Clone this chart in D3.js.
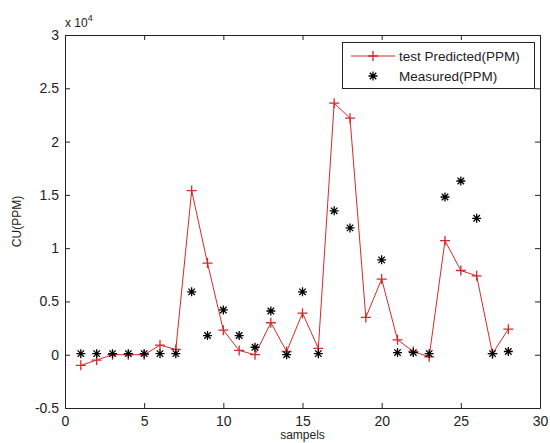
<!DOCTYPE html>
<html>
<head>
<meta charset="utf-8">
<script src="https://cdn.jsdelivr.net/npm/d3@7"></script>
<style>
  body { margin: 0; background: #fff; }
  text { font-family: "Liberation Sans", Arial, sans-serif; }
</style>
</head>
<body>
<div id="chart"></div>
<script>
// samples 1..28, values in units of 1e4 PPM
const samples = d3.range(1, 29);
const predicted = [-0.10, -0.05, 0.00, 0.00, 0.00, 0.09, 0.05, 1.54, 0.86, 0.23,
                   0.04, 0.00, 0.30, 0.03, 0.39, 0.06, 2.36, 2.22, 0.35, 0.71,
                   0.14, 0.03, -0.02, 1.07, 0.79, 0.74, 0.01, 0.24];
const measured = [0.01, 0.01, 0.01, 0.01, 0.01, 0.01, 0.01, 0.59, 0.18, 0.42,
                  0.18, 0.07, 0.41, 0.00, 0.59, 0.01, 1.35, 1.19, null, 0.89,
                  0.02, 0.02, 0.01, 1.48, 1.63, 1.28, 0.01, 0.03];
const xTicks = [0, 5, 10, 15, 20, 25, 30];
const yTicks = [-0.5, 0, 0.5, 1, 1.5, 2, 2.5, 3];

const width = 550, height = 443;
const margin = {top: 35, right: 10, bottom: 35, left: 65};

const svg = d3.select("#chart").append("svg")
    .attr("width", width)
    .attr("height", height);

const x = d3.scaleLinear().domain([0, 30]).range([margin.left, width - margin.right]);
const y = d3.scaleLinear().domain([-0.5, 3]).range([height - margin.bottom, margin.top]);

const tickColor = "#222";
const plain = d => String(d);

// axes with inward ticks, MATLAB box style
const styleAxis = g => {
    g.select(".domain").attr("stroke", tickColor);
    g.selectAll(".tick line").attr("stroke", tickColor);
    g.selectAll(".tick text").attr("fill", tickColor).attr("font-size", 14);
};

svg.append("g")
    .attr("transform", `translate(0,${y(-0.5)})`)
    .call(d3.axisBottom(x).tickValues(xTicks).tickFormat(plain).tickSize(-5).tickSizeOuter(0).tickPadding(8))
    .call(styleAxis);

svg.append("g")
    .attr("transform", `translate(0,${y(3)})`)
    .call(d3.axisTop(x).tickValues(xTicks).tickSize(-5).tickSizeOuter(0).tickFormat(""))
    .call(styleAxis);

svg.append("g")
    .attr("transform", `translate(${x(0)},0)`)
    .call(d3.axisLeft(y).tickValues(yTicks).tickFormat(plain).tickSize(-5).tickSizeOuter(0).tickPadding(6))
    .call(styleAxis);

svg.append("g")
    .attr("transform", `translate(${x(30)},0)`)
    .call(d3.axisRight(y).tickValues(yTicks).tickSize(-5).tickSizeOuter(0).tickFormat(""))
    .call(styleAxis);

// exponent label
const expo = svg.append("text")
    .attr("x", x(0))
    .attr("y", y(3) - 8)
    .attr("font-size", 12)
    .attr("fill", tickColor);
expo.append("tspan").text("x 10");
expo.append("tspan").attr("dy", -6).attr("font-size", 9).text("4");

// axis labels
svg.append("text")
    .attr("transform", `translate(21,${(y(3) + y(-0.5)) / 2}) rotate(-90)`)
    .attr("text-anchor", "middle")
    .attr("font-size", 12)
    .attr("fill", tickColor)
    .text("CU(PPM)");

svg.append("text")
    .attr("x", (x(0) + x(30)) / 2)
    .attr("y", height - 4)
    .attr("text-anchor", "middle")
    .attr("font-size", 12)
    .attr("fill", tickColor)
    .text("sampels");

const red = "#d42a2a";

// predicted line
const line = d3.line()
    .x((d, i) => x(samples[i]))
    .y(d => y(d));

svg.append("path")
    .datum(predicted)
    .attr("fill", "none")
    .attr("stroke", red)
    .attr("stroke-width", 1)
    .attr("d", line);

const plus = (g, cx, cy, r, color) => {
    g.append("path")
        .attr("d", `M${cx - r},${cy}H${cx + r}M${cx},${cy - r}V${cy + r}`)
        .attr("stroke", color)
        .attr("stroke-width", 1.3)
        .attr("fill", "none");
};

const star = (g, cx, cy, r, color) => {
    const d = r * 0.72;
    g.append("path")
        .attr("d", `M${cx - r},${cy}H${cx + r}M${cx},${cy - r}V${cy + r}` +
            `M${cx - d},${cy - d}L${cx + d},${cy + d}M${cx - d},${cy + d}L${cx + d},${cy - d}`)
        .attr("stroke", color)
        .attr("stroke-width", 1.3)
        .attr("fill", "none");
};

const marks = svg.append("g");
predicted.forEach((v, i) => plus(marks, x(samples[i]), y(v), 5, red));
measured.forEach((v, i) => {
    if (v !== null) star(marks, x(samples[i]), y(v), 4.5, "#000");
});

// legend
const lg = svg.append("g");
lg.append("rect")
    .attr("x", 342.5)
    .attr("y", 42.5)
    .attr("width", 192)
    .attr("height", 46)
    .attr("fill", "#fff")
    .attr("stroke", tickColor);

lg.append("line")
    .attr("x1", 351).attr("x2", 395)
    .attr("y1", 56).attr("y2", 56)
    .attr("stroke", red);
plus(lg, 373, 56, 5, red);
lg.append("text")
    .attr("x", 399).attr("y", 61)
    .attr("font-size", 13.5)
    .attr("fill", tickColor)
    .text("test Predicted(PPM)");

star(lg, 373, 76, 4.5, "#000");
lg.append("text")
    .attr("x", 399).attr("y", 81)
    .attr("font-size", 13.5)
    .attr("fill", tickColor)
    .text("Measured(PPM)");
</script>
</body>
</html>
